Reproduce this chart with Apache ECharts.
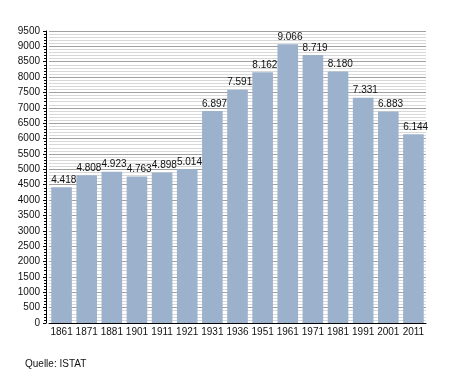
<!DOCTYPE html>
<html><head><meta charset="utf-8">
<script src="https://cdn.jsdelivr.net/npm/echarts@6/dist/echarts.min.js"></script>
<style>html,body{margin:0;padding:0;background:#fff}#c{width:455px;height:373px}</style>
</head><body><div id="c"></div>
<script>
const years = ['1861','1871','1881','1901','1911','1921','1931','1936','1951','1961','1971','1981','1991','2001','2011'];
const population = [4418,4808,4923,4763,4898,5014,6897,7591,8162,9066,8719,8180,7331,6883,6144];
const sourceText = 'Quelle: ISTAT';
const fmt = v => String(v).replace(/\B(?=(\d{3})+(?!\d))/g, '.');
const chart = echarts.init(document.getElementById('c'), null, {renderer:'canvas'});
const font = 'Liberation Sans, Arial, sans-serif';
chart.setOption({
  animation:false,
  backgroundColor:'#fff',
  textStyle:{fontFamily:font},
  grid:{left:49,right:29,top:31,bottom:50,containLabel:false},
  title:{text:sourceText,left:20,top:354,textStyle:{fontSize:10,fontWeight:'normal',color:'#111',fontFamily:font}},
  xAxis:{type:'category',data:years,
    axisLine:{show:true,lineStyle:{color:'#000',width:1}},
    axisTick:{show:false},
    axisLabel:{color:'#111',fontSize:10,margin:4,interval:0,fontFamily:font},
    splitLine:{show:false}},
  yAxis:{type:'value',min:0,max:9500,interval:500,offset:3,
    axisLine:{show:true,lineStyle:{color:'#000',width:1}},
    axisTick:{show:true,length:3,inside:false,lineStyle:{color:'#000'}},
    minorTick:{show:true,splitNumber:5,length:2,lineStyle:{color:'#000'}},
    axisLabel:{color:'#111',fontSize:10,margin:6,fontFamily:font,formatter:v=>String(v)},
    splitLine:{show:true,lineStyle:{color:'#a0a0a0',width:1}},
    minorSplitLine:{show:true,lineStyle:{color:'#d8d8d8',width:1}}},
  series:[{type:'bar',data:population,barCategoryGap:'18%',
    itemStyle:{color:'#9bb1cc'},
    label:{show:true,position:[0,-2],align:'left',verticalAlign:'bottom',
      color:'#111',fontSize:10,fontFamily:font,formatter:p=>fmt(p.value)}}]
});
</script></body></html>
